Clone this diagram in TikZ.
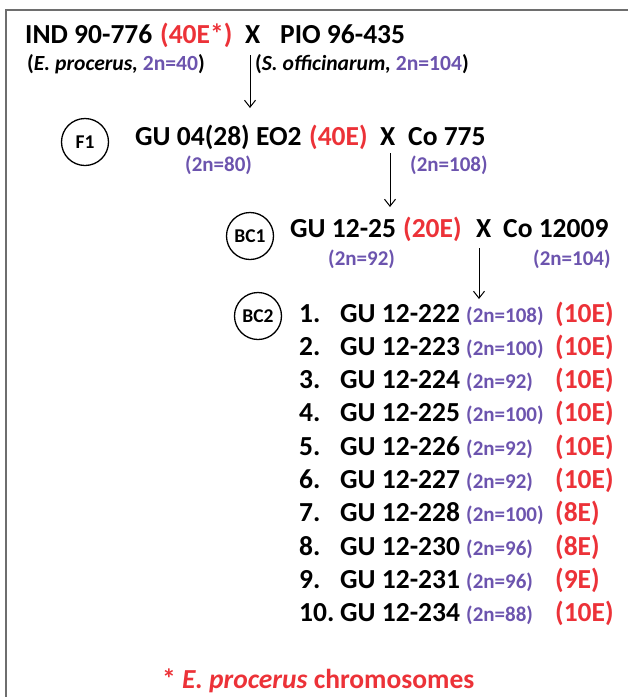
\documentclass[tikz,border=0pt]{standalone}
\usepackage{fontspec}
\setmainfont{Carlito}
\usetikzlibrary{arrows.meta}
\definecolor{ered}{RGB}{236,50,56}
\definecolor{cpurp}{RGB}{108,84,174}
\definecolor{framegray}{RGB}{110,110,110}
\tikzset{
  big/.style={anchor=base west,inner sep=0pt,font=\fontsize{27.5}{30}\selectfont\bfseries},
  mid/.style={anchor=base west,inner sep=0pt,font=\fontsize{21.6}{23}\selectfont\bfseries},
  small/.style={anchor=base west,inner sep=0pt,font=\fontsize{21}{23}\selectfont\bfseries,text=cpurp},
  gen/.style={circle,draw,line width=1.3pt,minimum size=47pt,inner sep=0pt,font=\fontsize{19.5}{21}\selectfont\bfseries},
  arr/.style={line width=1pt,-{Straight Barb[length=7pt,width=11pt,line width=1pt]}},
}
\begin{document}
\begin{tikzpicture}[x=1pt,y=-1pt]
\useasboundingbox (0,0) rectangle (628,697);
\draw[framegray,line width=1.6pt] (6,697) -- (6,10) -- (628,10);
% line 1
\node[big] (ind) at (25,43) {IND 90-776};
\node[big,text=ered] (ind40) at (160,43) {(40E*)};
\node[big] (x1) at (245,43) {X};
\node[big] (pio) at (280,43) {PIO 96-435};
% line 2
\node[mid] (eproc) at (27,70) {(\textit{E. procerus,} \textcolor{cpurp}{2n=40})};
\node[mid] (soff) at (255,70) {(\textit{S. officinarum,} \textcolor{cpurp}{2n=104})};
\coordinate (a1s) at (250,55);
\coordinate (a1e) at (250,108);
\draw[arr] (a1s) -- (a1e);
% line 3
\node[gen] (f1) at (85,142) {F1};
\node[big] (gu04) at (135,145) {GU 04(28) EO2};
\node[big,text=ered] (gu04e) at (309,145) {(40E)};
\node[big] (x2) at (380,145) {X};
\node[big] (co775) at (408,145) {Co 775};
\node[small] (n80) at (185,171) {(2n=80)};
\node[small] (n108) at (410,171) {(2n=108)};
\coordinate (a2s) at (390,153);
\coordinate (a2e) at (390,207);
\draw[arr] (a2s) -- (a2e);
% line 5
\node[gen] (bc1) at (250,236) {BC1};
\node[big] (gu1225) at (290,237) {GU 12-25};
\node[big,text=ered] (gu1225e) at (403,237) {(20E)};
\node[big] (x3) at (476,237) {X};
\node[big] (co12009) at (503,237) {Co 12009};
\node[small] (n92) at (328,265) {(2n=92)};
\node[small] (n104) at (533,265) {(2n=104)};
\coordinate (a3s) at (479,248);
\coordinate (a3e) at (479,299);
\draw[arr] (a3s) -- (a3e);
% BC2 list
\node[gen] (bc2) at (258,316) {BC2};
\foreach \i/\g/\n/\e in {1/222/108/10E,2/223/100/10E,3/224/92/10E,4/225/100/10E,5/226/92/10E,6/227/92/10E,7/228/100/8E,8/230/96/8E,9/231/96/9E,10/234/88/10E}{
  \pgfmathsetmacro{\yy}{322+33.3*(\i-1)}
  \node[big] (num\i) at (299,\yy) {\i.};
  \node[big] (gu\i) at (340,\yy) {GU 12-\g};
  \node[small] (cn\i) at (466,\yy) {(2n=\n)};
  \node[big,text=ered] (ec\i) at (555,\yy) {(\e)};
}
% footer
\node[big,text=ered] (foot) at (162,688) {* \textit{E. procerus} chromosomes};
\end{tikzpicture}
\end{document}
